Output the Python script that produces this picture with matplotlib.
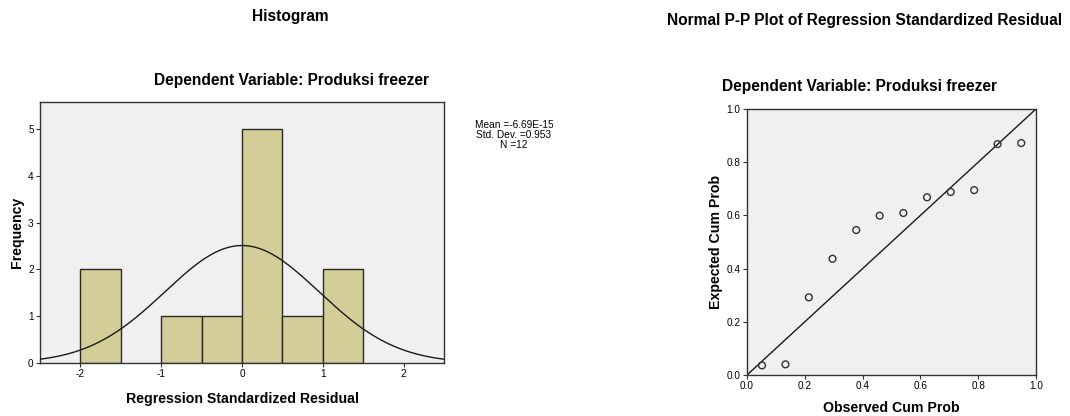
import matplotlib
matplotlib.use("Agg")
import matplotlib.pyplot as plt
import numpy as np

plt.rcParams['font.family'] = ['Liberation Sans', 'DejaVu Sans']
plt.rcParams['axes.unicode_minus'] = False

# Histogram data
bin_left = [-2.0, -1.0, -0.5, 0.0, 0.5, 1.0]
bin_counts = [2, 1, 1, 5, 1, 2]
bin_width = 0.5
res_mean = -6.69e-15
res_sd = 0.953
n_obs = 12

# P-P plot data
observed_cum = [0.052, 0.133, 0.214, 0.296, 0.378, 0.459, 0.541, 0.623, 0.705, 0.786, 0.867, 0.949]
expected_cum = [0.036, 0.040, 0.292, 0.437, 0.545, 0.599, 0.609, 0.668, 0.688, 0.695, 0.868, 0.872]

W, H = 1070, 416
fig = plt.figure(figsize=(W / 100, H / 100), dpi=100)

def ax_rect(l, t, r, b):
    return [l / W, 1 - b / H, (r - l) / W, (b - t) / H]

bg = '#F0F0F0'
spine_c = '#333333'
title_fs = 11.2
label_fs = 10.2

# Histogram
ax1 = fig.add_axes(ax_rect(40, 102, 444, 363))
ax1.set_facecolor(bg)
ax1.bar(bin_left, bin_counts, width=bin_width, align='edge', color='#D3CE97',
        edgecolor='#2a2a2a', linewidth=1.0, zorder=2)
xs = np.linspace(-2.5, 2.5, 300)
ys = n_obs * bin_width * np.exp(-0.5 * ((xs - res_mean) / res_sd) ** 2) / (res_sd * np.sqrt(2 * np.pi))
ax1.plot(xs, ys, color='#1a1a1a', linewidth=1.0, zorder=3)
ax1.set_xlim(-2.5, 2.5)
ax1.set_ylim(0, 5.58)
ax1.set_xticks([-2, -1, 0, 1, 2])
ax1.set_yticks([0, 1, 2, 3, 4, 5])
ax1.set_xlabel('Regression Standardized Residual', fontsize=label_fs, fontweight='bold', labelpad=9)
ax1.set_ylabel('Frequency', fontsize=label_fs, fontweight='bold', labelpad=3)

# P-P plot
ax2 = fig.add_axes(ax_rect(747, 109, 1036, 375))
ax2.set_facecolor(bg)
ax2.plot([0, 1], [0, 1], color='#1a1a1a', linewidth=1.0, zorder=2)
ax2.scatter(observed_cum, expected_cum, s=24, facecolors='none', edgecolors='#333333',
            linewidths=1.0, zorder=3)
ax2.set_xlim(0, 1)
ax2.set_ylim(0, 1)
ticks01 = [0, 0.2, 0.4, 0.6, 0.8, 1.0]
tick01_labels = ['0.0', '0.2', '0.4', '0.6', '0.8', '1.0']
ax2.set_xticks(ticks01)
ax2.set_yticks(ticks01)
ax2.set_xticklabels(tick01_labels)
ax2.set_yticklabels(tick01_labels)
ax2.set_xlabel('Observed Cum Prob', fontsize=label_fs, fontweight='bold', labelpad=7)
ax2.set_ylabel('Expected Cum Prob', fontsize=label_fs, fontweight='bold', labelpad=3)

for ax in (ax1, ax2):
    for s in ax.spines.values():
        s.set_color(spine_c)
        s.set_linewidth(1.0)
    ax.tick_params(axis='both', labelsize=7.2, length=3, width=0.8, color=spine_c, pad=1.5)

# Titles
fig.text(290 / W, 1 - 17 / H, 'Histogram', ha='center', va='center', fontsize=title_fs, fontweight='bold')
fig.text(291 / W, 1 - 80 / H, 'Dependent Variable: Produksi freezer', ha='center', va='center',
         fontsize=title_fs, fontweight='bold')
fig.text(865 / W, 1 - 20 / H, 'Normal P-P Plot of Regression Standardized Residual', ha='center',
         va='center', fontsize=title_fs, fontweight='bold')
fig.text(860 / W, 1 - 87 / H, 'Dependent Variable: Produksi freezer', ha='center', va='center',
         fontsize=title_fs, fontweight='bold')

# Stats box (clipped at its right edge as in the reference)
ax3 = fig.add_axes(ax_rect(455, 110, 553, 160))
ax3.set_axis_off()
ax3.text(514 / W, 1 - 135 / H, 'Mean =-6.69E-15\nStd. Dev. =0.953\nN =12', ha='center', va='center',
         fontsize=7.3, linespacing=0.95, transform=fig.transFigure, clip_on=True)

fig.savefig('out.png', dpi=100, facecolor='white')
